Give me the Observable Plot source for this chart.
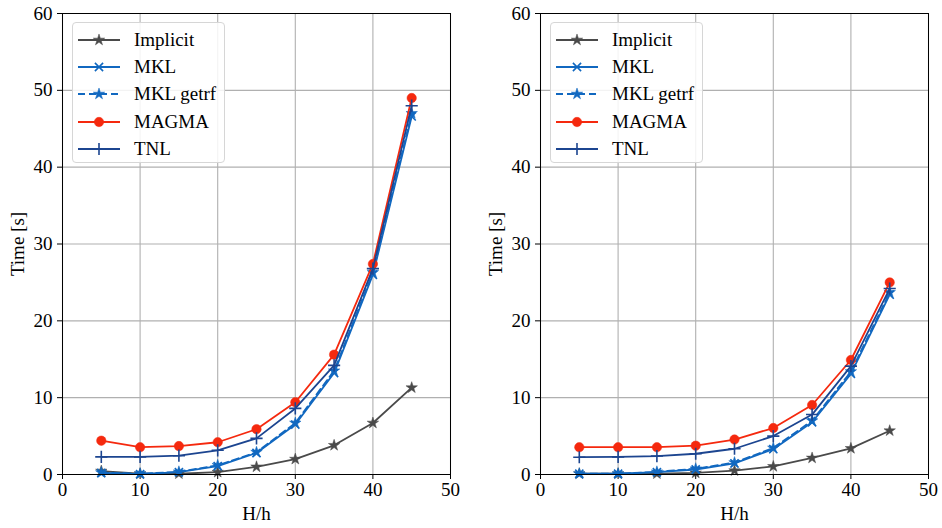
<!DOCTYPE html>
<html><head><meta charset="utf-8">
<script src="https://cdn.jsdelivr.net/npm/d3@7"></script>
<script src="https://cdn.jsdelivr.net/npm/@observablehq/plot@0.6"></script>
<style>
body{margin:0;background:#fff;}
#wrap{position:relative;width:942px;height:528px;display:flex;font-family:"Liberation Serif",serif;}
.legend{position:absolute;top:22px;width:153px;height:141px;border:1px solid #d6d6d6;border-radius:4px;background:rgba(255,255,255,0.85);box-sizing:border-box;padding-top:3px;}
.row{display:flex;align-items:center;height:27.3px;font-size:19px;color:#000;}
.row svg{margin-left:5px;margin-right:14px;}
</style></head><body>
<div id="wrap"></div>
<script>
const hh = [5,10,15,20,25,30,35,40,45];
const xTicks = [0,10,20,30,40,50];
const yTicks = [0,10,20,30,40,50,60];
const seriesNames = ["Implicit","MKL","MKL getrf","MAGMA","TNL"];
const seriesColors = ["#4a4a4a","#1168c0","#1168c0","#f5290e","#1c4590"];
const seriesSymbols = ["star","times","star","circle","plus"];
const seriesDash = [null,null,"7,4",null,null];
const symbolR = {star:3.6,times:3.8,circle:4.7,plus:4};

const leftImplicit = [0.45,0.1,0.1,0.3,1.0,2.0,3.8,6.7,11.3];
const leftMKL      = [0.2,0.05,0.3,1.1,2.8,6.5,13.2,26.0,46.6];
const leftGetrf    = [0.25,0.1,0.35,1.2,2.9,6.7,13.5,26.3,47.0];
const leftMAGMA    = [4.4,3.55,3.7,4.2,5.9,9.4,15.6,27.4,49.0];
const leftTNL      = [2.3,2.3,2.45,3.15,4.7,8.6,14.2,26.8,48.0];

const rightImplicit = [0.1,0.1,0.1,0.2,0.5,1.05,2.15,3.4,5.7];
const rightMKL      = [0.1,0.1,0.3,0.65,1.45,3.3,6.8,13.1,23.4];
const rightGetrf    = [0.1,0.1,0.35,0.75,1.55,3.45,7.0,13.4,23.7];
const rightMAGMA    = [3.55,3.55,3.55,3.75,4.55,6.05,9.05,14.9,25.0];
const rightTNL      = [2.25,2.3,2.4,2.7,3.35,5.0,7.8,14.1,24.2];

function build(arrs){
  const out = [];
  arrs.forEach((a,i)=>a.forEach((v,j)=>out.push({series:seriesNames[i],idx:i,x:hh[j],y:v})));
  return out;
}
const leftData = build([leftImplicit,leftMKL,leftGetrf,leftMAGMA,leftTNL]);
const rightData = build([rightImplicit,rightMKL,rightGetrf,rightMAGMA,rightTNL]);

function panel(data, mL, mR){
  const marks = [
    Plot.gridX(xTicks,{stroke:"#b0b0b0",strokeOpacity:1,strokeWidth:1.1}),
    Plot.gridY(yTicks,{stroke:"#b0b0b0",strokeOpacity:1,strokeWidth:1.1}),
    Plot.axisX(xTicks,{tickSize:5,tickPadding:3,label:"H/h",labelAnchor:"center",labelArrow:"none",labelOffset:45,fontSize:19}),
    Plot.axisY(yTicks,{tickSize:5,tickPadding:5,label:"Time [s]",labelAnchor:"center",labelArrow:"none",labelOffset:52,fontSize:19})
  ];
  seriesNames.forEach((name,i)=>{
    const d = data.filter(r=>r.idx===i);
    const s = seriesSymbols[i];
    marks.push(Plot.line(d,{x:"x",y:"y",stroke:seriesColors[i],strokeWidth:1.8,strokeDasharray:seriesDash[i]}));
    const filled = s==="star"||s==="circle";
    marks.push(Plot.dot(d,{x:"x",y:"y",symbol:s,r:symbolR[s],
      fill:filled?seriesColors[i]:"none",stroke:seriesColors[i],strokeWidth:filled?0.5:1.6}));
  });
  marks.push(Plot.frame({stroke:"#000",strokeWidth:1}));
  return Plot.plot({
    width:471,height:528,marginLeft:mL,marginRight:mR,marginTop:13,marginBottom:54,
    x:{domain:[0,50]},y:{domain:[0,60]},
    style:{fontFamily:"Liberation Serif",fontSize:"19px",color:"#000",background:"#fff",overflow:"visible"},
    marks
  });
}

const wrap = document.getElementById("wrap");
wrap.appendChild(panel(leftData,62,21));
wrap.appendChild(panel(rightData,69,14));

function legend(left){
  const div = document.createElement("div");
  div.className="legend";
  div.style.left = left+"px";
  seriesNames.forEach((name,i)=>{
    const row = document.createElement("div");
    row.className="row";
    const ns="http://www.w3.org/2000/svg";
    const svg = document.createElementNS(ns,"svg");
    svg.setAttribute("width",42);svg.setAttribute("height",16);
    const ln = document.createElementNS(ns,"line");
    ln.setAttribute("x1",0);ln.setAttribute("x2",42);ln.setAttribute("y1",8);ln.setAttribute("y2",8);
    ln.setAttribute("stroke",seriesColors[i]);ln.setAttribute("stroke-width",1.8);
    if(seriesDash[i]) ln.setAttribute("stroke-dasharray",seriesDash[i]);
    svg.appendChild(ln);
    const s = seriesSymbols[i];
    const sym = {star:d3.symbolStar,times:d3.symbolTimes,circle:d3.symbolCircle,plus:d3.symbolPlus}[s];
    const r = symbolR[s];
    const p = document.createElementNS(ns,"path");
    p.setAttribute("d",d3.symbol(sym,Math.PI*r*r)());
    p.setAttribute("transform","translate(21,8)");
    const filled = s==="star"||s==="circle";
    p.setAttribute("fill",filled?seriesColors[i]:"none");
    p.setAttribute("stroke",seriesColors[i]);
    p.setAttribute("stroke-width",filled?0.5:1.6);
    svg.appendChild(p);
    row.appendChild(svg);
    const t=document.createElement("span");t.textContent=name;row.appendChild(t);
    div.appendChild(row);
  });
  wrap.appendChild(div);
}
legend(72);
legend(550);
</script>
</body></html>
